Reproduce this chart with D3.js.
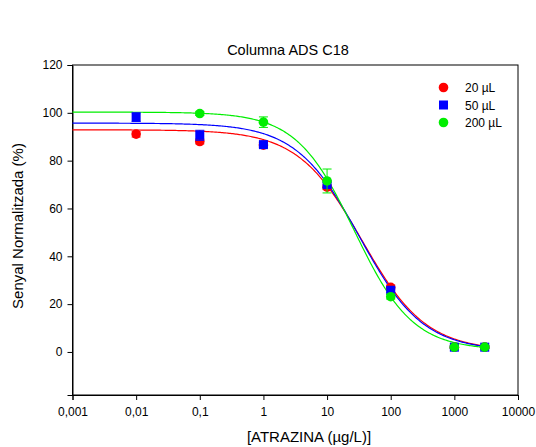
<!DOCTYPE html>
<html><head><meta charset="utf-8">
<script src="https://cdn.jsdelivr.net/npm/d3@7/dist/d3.min.js"></script>
<style>body{margin:0;background:#fff;}svg{display:block;font-family:"Liberation Sans",Arial,sans-serif;}</style>
</head><body>
<svg id="c" width="536" height="447"></svg>
<script>
const xTicks = [0.001, 0.01, 0.1, 1, 10, 100, 1000, 10000];
const xTickLabels = ["0,001", "0,01", "0,1", "1", "10", "100", "1000", "10000"];
const yTicks = [0, 20, 40, 60, 80, 100, 120];
const seriesNames = ["20 µL", "50 µL", "200 µL"];
const seriesColors = ["#ff0000", "#0000ff", "#00ee00"];
const seriesShapes = ["circle", "square", "circle"];
const concX = [0.01, 0.1, 1, 10, 100, 1000, 3000];
const red20 = [91.1, 88.0, 86.5, 68.9, 27.0, 2.0, 2.0];
const red20Err = [1.2, 1.0, 1.0, 1.0, 1.0, 0.5, 0.5];
const blue50 = [98.2, 90.6, 86.7, 70.0, 25.8, 2.0, 2.0];
const blue50Err = [1.8, 2.1, 1.0, 1.0, 1.0, 0.5, 0.5];
const green200X = [0.1, 1, 10, 100, 1000, 3000];
const green200 = [99.7, 96.1, 71.5, 23.1, 2.0, 2.0];
const green200Err = [0.8, 2.2, 5.0, 1.0, 0.5, 0.5];
// 4-parameter logistic fits: [top, bottom, EC50, slope]
const fitRed = [92.9, 0.5, 35.3, 0.86];
const fitBlue = [95.7, 0.5, 32.4, 0.87];
const fitGreen = [100.3, 0.8, 27.0, 0.95];

const svg = d3.select("#c");
const L = 72.5, R = 518, T = 65, B = 395;
const x = d3.scaleLog().domain([0.001, 10000]).range([L, R]);
const y = d3.scaleLinear().domain([-18, 120]).range([B, T]);

// frame
svg.append("rect").attr("x", L).attr("y", T).attr("width", R - L).attr("height", B - T)
  .attr("fill", "none").attr("stroke", "#000").attr("stroke-width", 1);

// axes
const xAxis = d3.axisBottom(x).tickValues(xTicks).tickSize(5)
  .tickFormat((d, i) => xTickLabels[i]);
const gx = svg.append("g").attr("transform", `translate(0,${B})`).call(xAxis);
const yAxis = d3.axisLeft(y).tickValues(yTicks).tickSize(5);
const gy = svg.append("g").attr("transform", `translate(${L},0)`).call(yAxis);
[gx, gy].forEach(g => {
  g.select(".domain").attr("stroke", "#000");
  g.selectAll(".tick line").attr("stroke", "#000");
  g.selectAll(".tick text").attr("fill", "#000").style("font-size", "12px")
    .style("font-family", '"Liberation Sans",Arial,sans-serif');
});
gx.selectAll(".tick text").attr("dy", "1.1em");
gy.selectAll(".tick text").attr("dx", "-2");

// labels
svg.append("text").attr("x", 288).attr("y", 54.5).attr("text-anchor", "middle")
  .style("font-size", "14.5px").text("Columna ADS C18");
svg.append("text").attr("transform", "translate(23,226) rotate(-90)").attr("text-anchor", "middle")
  .style("font-size", "15px").text("Senyal Normalitzada (%)");
svg.append("text").attr("x", 309).attr("y", 442).attr("text-anchor", "middle")
  .style("font-size", "15px").text("[ATRAZINA (µg/L)]");

// curves
function logistic(p, v) { return p[1] + (p[0] - p[1]) / (1 + Math.pow(v / p[2], p[3])); }
const curveX = d3.range(-3, Math.log10(3000) + 0.0001, 0.02).map(e => Math.pow(10, e));
const line = d3.line().x(d => x(d[0])).y(d => y(d[1]));
[fitRed, fitBlue, fitGreen].forEach((p, i) => {
  svg.append("path").datum(curveX.map(v => [v, logistic(p, v)]))
    .attr("d", line).attr("fill", "none").attr("stroke", seriesColors[i]).attr("stroke-width", 1.2);
});

// points
const sets = [
  {xs: concX, ys: red20, es: red20Err},
  {xs: concX, ys: blue50, es: blue50Err},
  {xs: green200X, ys: green200, es: green200Err}
];
sets.forEach((s, i) => {
  const g = svg.append("g");
  s.xs.forEach((xv, j) => {
    const cx = x(xv), v = s.ys[j], e = s.es[j];
    const y1 = y(v + e), y2 = y(v - e);
    g.append("line").attr("x1", cx).attr("x2", cx).attr("y1", y1).attr("y2", y2).attr("stroke", seriesColors[i]).attr("stroke-width", 1);
    [y1, y2].forEach(yy => g.append("line").attr("x1", cx - 4.5).attr("x2", cx + 4.5).attr("y1", yy).attr("y2", yy).attr("stroke", seriesColors[i]).attr("stroke-width", 1));
    if (seriesShapes[i] === "circle") {
      g.append("circle").attr("cx", cx).attr("cy", y(v)).attr("r", 4.8).attr("fill", seriesColors[i]);
    } else {
      g.append("rect").attr("x", cx - 4.5).attr("y", y(v) - 4.5).attr("width", 9).attr("height", 9).attr("fill", seriesColors[i]);
    }
  });
});

// legend
const lg = svg.append("g");
seriesNames.forEach((n, i) => {
  const cy = 87.5 + i * 17.5;
  if (seriesShapes[i] === "circle") {
    lg.append("circle").attr("cx", 443.5).attr("cy", cy).attr("r", 4.8).attr("fill", seriesColors[i]);
  } else {
    lg.append("rect").attr("x", 439).attr("y", cy - 4.5).attr("width", 9).attr("height", 9).attr("fill", seriesColors[i]);
  }
  lg.append("text").attr("x", 465).attr("y", cy + 4.5).style("font-size", "12px").text(n);
});
</script>
</body></html>
